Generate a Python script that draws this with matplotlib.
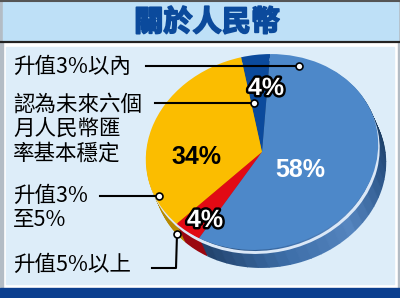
import matplotlib.pyplot as plt
import numpy as np
from matplotlib.patches import Rectangle, Wedge
from matplotlib.transforms import Affine2D
from matplotlib.colors import to_rgb
import matplotlib.patheffects as pe

plt.rcParams['font.family'] = ['Noto Sans CJK TC', 'DejaVu Sans']

# data
title = "關於人民幣"
shares = [4, 34, 4, 58]
share_labels = ["4%", "34%", "4%", "58%"]
top_colors = ["#0b4a9c", "#fbbd00", "#e10a14", "#4d88c9"]
side_colors = ["#072f66", "#b88a00", "#9a0710", "#2b5d97"]
pct_colors = ["white", "black", "white", "white"]
pct_stroke = [True, False, True, False]
cat_labels = ["升值3%以內", "認為未來六個\n月人民幣匯\n率基本穩定", "升值3%\n至5%", "升值5%以上"]

W, H = 400, 298
fig = plt.figure(figsize=(4.0, 2.98), dpi=100)
ax = fig.add_axes([0, 0, 1, 1])
ax.set_xlim(0, W)
ax.set_ylim(H, 0)
ax.axis('off')

# frame and bands (image pixel coords, y down)
ax.add_patch(Rectangle((0, 0), W, H, color="white", zorder=0))
ax.add_patch(Rectangle((0, 0), 2.5, H, color="#b3bcc5", zorder=1))
ax.add_patch(Rectangle((W - 2.5, 0), 2.5, H, color="#b3bcc5", zorder=1))
ax.add_patch(Rectangle((2.5, 2), W - 5, 39, color="#bee0f7", zorder=1))
ax.plot([0, W], [1, 1], color="#555555", lw=1.5, zorder=2)
ax.plot([0, W], [41.5, 41.5], color="#222222", lw=1.6, zorder=2)
ax.add_patch(Rectangle((6, 47), W - 12, 237, color="#ddedf9", zorder=1))
ax.add_patch(Rectangle((0, 288), W, 10, color="#0b3f8f", zorder=1))

t = ax.text(207, 22, title, ha='center', va='center', fontsize=21,
            fontweight='bold', color="#0b4a9c", zorder=5)
t.set_path_effects([pe.withStroke(linewidth=1.3, foreground="#0b4a9c")])

# pie as a tilted ellipse: unit circle (y up) -> scale -> tilt -> flip to screen -> move
cx, cy = 262, 152
a, b = 117, 97
tilt = 12
start = 76

def ellipse_tf(dx, dy):
    return (Affine2D().scale(a, b).rotate_deg(tilt).scale(1, -1)
            .translate(cx + dx, cy + dy) + ax.transData)

def side_shade(angle):
    # shading of the blue side by angle (dark on the right, lighter toward the bottom)
    keys = [(-140, "#1c3a60"), (-90, "#3d6ea8"), (-55, "#5585bf"), (-20, "#2a5487"), (20, "#13304f"), (80, "#13304f")]
    angle = ((angle + 180) % 360) - 180
    xs = [k[0] for k in keys]
    rgb = np.array([to_rgb(k[1]) for k in keys])
    return tuple(np.interp(angle, xs, rgb[:, j]) for j in range(3))

def pie_wedges(colors, dx, dy, z, shade=False):
    ang = start
    for i, (v, c) in enumerate(zip(shares, colors)):
        th1 = ang
        th2 = ang + v / 100 * 360
        if shade and i == 3:
            edges = np.linspace(th1, th2, 40)
            for e1, e2 in zip(edges[:-1], edges[1:]):
                w = Wedge((0, 0), 1, e1, e2 + 0.5, facecolor=side_shade((e1 + e2) / 2),
                          edgecolor='none', zorder=z)
                w.set_transform(ellipse_tf(dx, dy))
                ax.add_patch(w)
        else:
            w = Wedge((0, 0), 1, th1, th2, facecolor=c, edgecolor='none', zorder=z)
            w.set_transform(ellipse_tf(dx, dy))
            ax.add_patch(w)
        ang = th2

# extruded side
steps = 16
for i in range(steps, 0, -1):
    f = i / steps
    pie_wedges(side_colors, 8 * f, 18 * f, 3, shade=True)
# light rim between top and side
rim = Wedge((0, 0), 1.0, 0, 360, width=0.03, facecolor="#dbe8f7", edgecolor='none', zorder=3.5)
rim.set_transform(ellipse_tf(1.5, 4))
ax.add_patch(rim)
pie_wedges(top_colors, 0, 0, 4)

# percentage labels
pct_pos = [(266, 88), (196, 157), (205, 220), (300, 170)]
for (px, py), s_, c, s in zip(pct_pos, share_labels, pct_colors, pct_stroke):
    txt = ax.text(px, py, s_, ha='center', va='center', fontsize=18,
                  fontweight='bold', color=c, family=['Liberation Sans'], zorder=6)
    if s:
        txt.set_path_effects([pe.withStroke(linewidth=3.5, foreground='black')])

# category labels with leader lines
lab_pos = [(13, 67), (13, 129), (13, 208), (13, 265)]
for (lx, ly), s_ in zip(lab_pos, cat_labels):
    ax.text(lx, ly, s_, ha='left', va='center', fontsize=15.5, color="black",
            linespacing=1.15, zorder=6)

leaders = [
    [(146, 66), (299, 66)],
    [(155, 103), (254, 103)],
    [(100, 196), (159, 196)],
    [(152, 268), (176, 268), (177, 234)],
]
for pts in leaders:
    xs = [p[0] for p in pts]
    ys = [p[1] for p in pts]
    ax.plot(xs, ys, color="black", lw=1.5, zorder=7)
    ax.plot(xs[-1], ys[-1], 'o', ms=5, mfc='white', mec='black', mew=1.2, zorder=8)

fig.savefig("out.png", dpi=100)
